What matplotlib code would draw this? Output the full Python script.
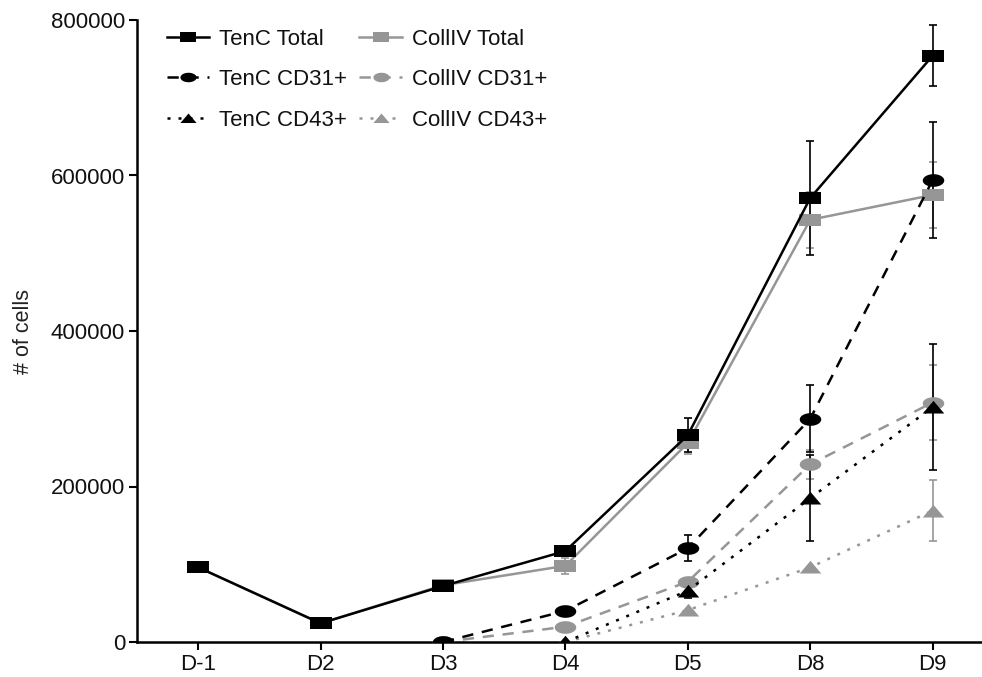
import numpy as np
import matplotlib
matplotlib.use('Agg')
import matplotlib.pyplot as plt

plt.rcParams['font.family'] = ['Liberation Sans', 'DejaVu Sans']

# days on the x axis
days = ['D-1', 'D2', 'D3', 'D4', 'D5', 'D8', 'D9']

tenc_total = [96000, 24000, 72000, 117000, 266000, 571000, 754000]
tenc_total_err = [0, 0, 0, 0, 21500, 73000, 39000]
coll_total = [96000, 24000, 73000, 98000, 256000, 543000, 575000]
coll_total_err = [0, 0, 0, 10000, 14000, 36000, 43000]

tenc_cd31 = [np.nan, np.nan, 0, 40000, 120500, 287000, 594000]
tenc_cd31_err = [0, 0, 0, 0, 16500, 43000, 75000]
coll_cd31 = [np.nan, np.nan, 0, 19700, 77500, 228500, 308000]
coll_cd31_err = [0, 0, 0, 0, 0, 19000, 48000]

tenc_cd43 = [np.nan, np.nan, np.nan, 0, 66000, 185000, 302000]
tenc_cd43_err = [0, 0, 0, 0, 9000, 55000, 81000]
coll_cd43 = [np.nan, np.nan, np.nan, 0, 41000, 96000, 169000]
coll_cd43_err = [0, 0, 0, 0, 0, 0, 39000]

x = np.arange(len(days))

# wide markers like in the original (picture was stretched sideways)
sq = [(-1.7, -1), (1.7, -1), (1.7, 1), (-1.7, 1), (-1.7, -1)]
t = np.linspace(0, 2 * np.pi, 40)
ell = list(zip(1.7 * np.cos(t), np.sin(t)))
tri = [(-1.7, -0.95), (1.7, -0.95), (0, 1.05), (-1.7, -0.95)]

black = '#000000'
grey = '#969696'

fig = plt.figure(figsize=(9.82, 6.77), dpi=100)
ax = fig.add_axes([137 / 982, 1 - 642 / 677, (982 - 137) / 982, 622 / 677])

def plot_series(y, err, color, marker, dashes, label):
    y = np.array(y, dtype=float)
    err = np.array(err, dtype=float)
    err = np.where(err > 0, err, np.nan)
    ax.errorbar(x, y, yerr=err, fmt='none', ecolor=color, elinewidth=1.2,
                capsize=3, capthick=1.2, zorder=2)
    line, = ax.plot(x, y, color=color, lw=1.8, marker=marker, markersize=15.5,
                    markeredgewidth=0, label=label, zorder=3)
    if dashes is not None:
        line.set_dashes(dashes)
    return line

# grey series first so the black ones sit on top
h_ct = plot_series(coll_total, coll_total_err, grey, sq, None, 'CollIV Total')
h_c31 = plot_series(coll_cd31, coll_cd31_err, grey, ell, (4.5, 3.5), 'CollIV CD31+')
h_c43 = plot_series(coll_cd43, coll_cd43_err, grey, tri, (1.2, 3.2), 'CollIV CD43+')
h_tt = plot_series(tenc_total, tenc_total_err, black, sq, None, 'TenC Total')
h_t31 = plot_series(tenc_cd31, tenc_cd31_err, black, ell, (4.5, 3.5), 'TenC CD31+')
h_t43 = plot_series(tenc_cd43, tenc_cd43_err, black, tri, (1.2, 3.2), 'TenC CD43+')

ax.set_xlim(-0.5, (982 - 137) / 122.4 - 0.5)
ax.set_ylim(0, 800000)
ax.set_yticks([0, 200000, 400000, 600000, 800000])
ax.set_yticklabels(['0', '200000', '400000', '600000', '800000'])
ax.set_xticks(x)
ax.set_xticklabels(days)
ax.set_ylabel('# of cells', fontsize=15.5, labelpad=12, color='#222222')

for side in ['top', 'right']:
    ax.spines[side].set_visible(False)
for side in ['left', 'bottom']:
    ax.spines[side].set_linewidth(1.8)
ax.tick_params(axis='both', labelsize=16, width=1.5, length=5.5, direction='out',
               pad=3, labelcolor='#111111')

handles = [h_tt, h_t31, h_t43, h_ct, h_c31, h_c43]
leg = ax.legend(handles=handles, ncol=2, loc='upper left', bbox_to_anchor=(0.025, 1.0),
                frameon=False, fontsize=16, markerscale=0.75, handlelength=1.9,
                handletextpad=0.45, columnspacing=0.55, labelspacing=0.87,
                borderaxespad=0)
for text in leg.get_texts():
    text.set_color('#111111')

fig.savefig('out.png', dpi=100)
